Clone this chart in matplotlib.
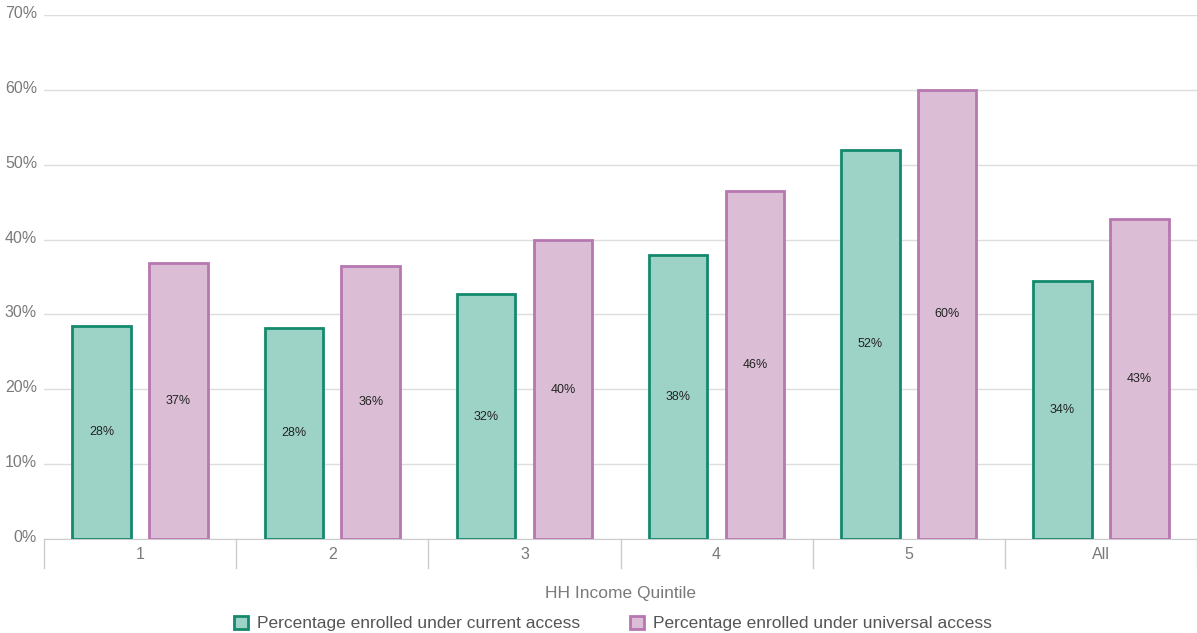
import matplotlib.pyplot as plt
import matplotlib.transforms as mtransforms
import numpy as np

plt.rcParams['font.family'] = ['Liberation Sans', 'DejaVu Sans']

quintiles = ['1', '2', '3', '4', '5', 'All']
current = [28.5, 28.2, 32.7, 37.9, 52.0, 34.5]
universal = [36.9, 36.5, 39.9, 46.5, 60.0, 42.7]
current_labels = ['28%', '28%', '32%', '38%', '52%', '34%']
universal_labels = ['37%', '36%', '40%', '46%', '60%', '43%']

green_face = '#9dd3c7'
green_edge = '#138a6d'
pink_face = '#dbbed6'
pink_edge = '#b777b0'
grey = '#7a7a7a'

fig = plt.figure(figsize=(11.97, 6.33), dpi=100)
ax = fig.add_axes([44 / 1197, 1 - 539 / 633, 1 - 44 / 1197, (539 - 15) / 633])

x = np.arange(len(quintiles))
w = 0.305
off = 0.2

b1 = ax.bar(x - off, current, w, color=green_face, edgecolor=green_edge, linewidth=2,
            label='Percentage enrolled under current access', zorder=3)
b2 = ax.bar(x + off, universal, w, color=pink_face, edgecolor=pink_edge, linewidth=2,
            label='Percentage enrolled under universal access', zorder=3)

for xi, v, t in zip(x - off, current, current_labels):
    ax.text(xi, v / 2, t, ha='center', va='center', fontsize=9, color='#222222', zorder=4)
for xi, v, t in zip(x + off, universal, universal_labels):
    ax.text(xi, v / 2, t, ha='center', va='center', fontsize=9, color='#222222', zorder=4)

ax.set_xlim(-0.5, len(quintiles) - 0.5)
ax.set_ylim(0, 70)
ax.set_yticks(range(0, 71, 10))
ax.set_yticklabels([f'{v}%' for v in range(0, 71, 10)])
ax.grid(axis='y', color='#dddddd', linewidth=1, zorder=0)

ax.set_xticks(x)
ax.set_xticklabels(quintiles)
ax.tick_params(axis='x', length=0, pad=6, labelsize=11.5, labelcolor=grey)
ax.tick_params(axis='y', length=0, pad=5, labelsize=11.5, labelcolor=grey)
# nudge y labels up a little, like the original
shift = mtransforms.ScaledTranslation(0, 3 / 100, fig.dpi_scale_trans)
for lab in ax.get_yticklabels():
    lab.set_transform(lab.get_transform() + shift)

for s in ['top', 'right', 'left']:
    ax.spines[s].set_visible(False)
ax.spines['bottom'].set_color('#cccccc')

# group separator ticks below the axis
for b in np.arange(-0.5, len(quintiles), 1.0):
    ax.plot([b, b], [0, -0.055], transform=ax.get_xaxis_transform(),
            color='#cccccc', linewidth=1, clip_on=False)

ax.set_xlabel('HH Income Quintile', fontsize=12.5, color=grey, labelpad=17)

leg = fig.legend(handles=[b1, b2], loc='lower center', bbox_to_anchor=(0.512, -0.022),
                 ncol=2, frameon=False, fontsize=12.5, handlelength=0.8, handleheight=0.8,
                 handletextpad=0.5, columnspacing=2.9)
for t in leg.get_texts():
    t.set_color('#555555')

fig.savefig('out.png', dpi=100)
